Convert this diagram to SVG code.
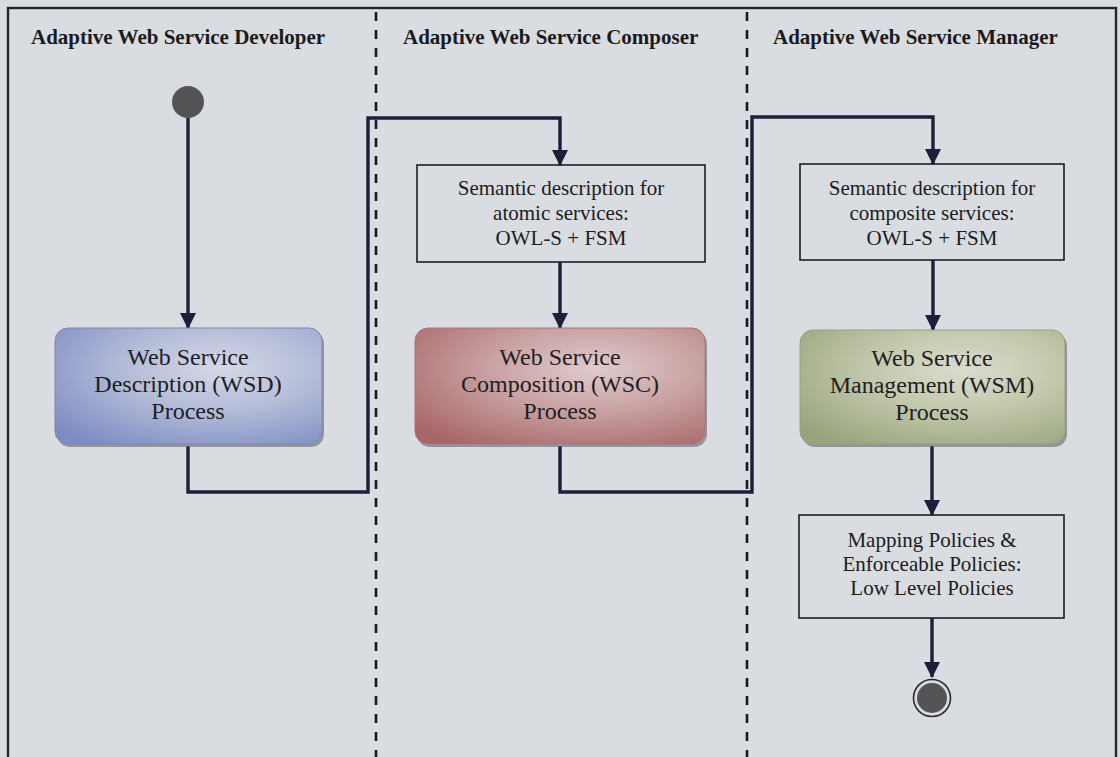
<svg xmlns="http://www.w3.org/2000/svg" width="1120" height="757" viewBox="0 0 1120 757">
  <style>
    .lane-title { font-family: "Liberation Serif", "Times New Roman", serif; font-size: 21px; font-weight: bold; fill: #1b1b1d; }
    .proc-text { font-family: "Liberation Serif", "Times New Roman", serif; font-size: 24px; fill: #1f2023; text-anchor: middle; }
    .note-text { font-family: "Liberation Serif", "Times New Roman", serif; font-size: 21px; fill: #1c1d20; text-anchor: middle; }
    .note-box { fill: none; stroke: #1e1e22; stroke-width: 1.6; }
    .lane-sep { stroke: #1a1a1e; stroke-width: 2.6; stroke-dasharray: 9 9; fill: none; }
    .flow { fill: none; stroke: #1c1f3a; stroke-width: 3.4; stroke-linejoin: miter; }
    .flow-arrow { marker-end: url(#arrowhead); }
    .shadow { fill: #62656f; opacity: 0.6; }
  </style>
  <defs>
    <marker id="arrowhead" markerUnits="userSpaceOnUse" markerWidth="16" markerHeight="16" viewBox="0 0 16 16" refX="15" refY="8" orient="auto">
      <path d="M0,0 L16,8 L0,16 Z" fill="#1c1f3a"/>
    </marker>
    <radialGradient id="gradBlue" cx="0.62" cy="0.35" r="0.8">
      <stop offset="0" stop-color="#d4d8e7"/>
      <stop offset="0.45" stop-color="#b4bcd8"/>
      <stop offset="1" stop-color="#7d8cc3"/>
    </radialGradient>
    <radialGradient id="gradRed" cx="0.62" cy="0.35" r="0.8">
      <stop offset="0" stop-color="#e0cbcc"/>
      <stop offset="0.45" stop-color="#c9a2a3"/>
      <stop offset="1" stop-color="#a76567"/>
    </radialGradient>
    <radialGradient id="gradGreen" cx="0.62" cy="0.35" r="0.8">
      <stop offset="0" stop-color="#dadccf"/>
      <stop offset="0.45" stop-color="#c2c8ab"/>
      <stop offset="1" stop-color="#98a37c"/>
    </radialGradient>
  </defs>

  <!-- page background -->
  <rect x="0" y="0" width="1120" height="757" fill="#d9dce0"/>

  <!-- swimlane frame and separators -->
  <g id="lanes">
    <rect x="8" y="8" width="1108" height="780" fill="none" stroke="#26262a" stroke-width="2.4"/>
    <line class="lane-sep" x1="376" y1="12" x2="376" y2="757"/>
    <line class="lane-sep" x1="747" y1="12" x2="747" y2="757"/>
    <text class="lane-title" x="31" y="44">Adaptive Web Service Developer</text>
    <text class="lane-title" x="403" y="44">Adaptive Web Service Composer</text>
    <text class="lane-title" x="773" y="44">Adaptive Web Service Manager</text>
  </g>

  <!-- control flow -->
  <g id="connectors">
    <path class="flow flow-arrow" d="M188,118 L188,328"/>
    <path class="flow flow-arrow" d="M188,446 L188,492 L368,492 L368,118 L560,118 L560,165"/>
    <path class="flow flow-arrow" d="M560,262 L560,328"/>
    <path class="flow flow-arrow" d="M560,446 L560,492 L752,492 L752,117 L933,117 L933,164"/>
    <path class="flow flow-arrow" d="M933,260 L933,330"/>
    <path class="flow flow-arrow" d="M932,446 L932,515"/>
    <path class="flow flow-arrow" d="M932,618 L932,677"/>
  </g>

  <!-- start -->
  <g id="start">
    <circle cx="188" cy="102" r="16" fill="#545457"/>
  </g>

  <!-- WSD process -->
  <g id="wsd">
    <rect class="shadow" x="57" y="331" width="267" height="116" rx="13"/>
    <rect x="55" y="328" width="267" height="116" rx="13" fill="url(#gradBlue)" stroke="#7f89b2" stroke-width="1"/>
    <text class="proc-text" x="188" y="365">Web Service</text>
    <text class="proc-text" x="188" y="392">Description (WSD)</text>
    <text class="proc-text" x="188" y="419">Process</text>
  </g>

  <!-- atomic semantic description -->
  <g id="atomic-desc">
    <rect class="note-box" x="417" y="165" width="288" height="97"/>
    <text class="note-text" x="561" y="195">Semantic description for</text>
    <text class="note-text" x="561" y="220">atomic services:</text>
    <text class="note-text" x="561" y="245">OWL-S + FSM</text>
  </g>

  <!-- WSC process -->
  <g id="wsc">
    <rect class="shadow" x="417" y="331" width="290" height="116" rx="13"/>
    <rect x="415" y="328" width="290" height="116" rx="13" fill="url(#gradRed)" stroke="#a7797a" stroke-width="1"/>
    <text class="proc-text" x="560" y="365">Web Service</text>
    <text class="proc-text" x="560" y="392">Composition (WSC)</text>
    <text class="proc-text" x="560" y="419">Process</text>
  </g>

  <!-- composite semantic description -->
  <g id="composite-desc">
    <rect class="note-box" x="800" y="164" width="264" height="96"/>
    <text class="note-text" x="932" y="195">Semantic description for</text>
    <text class="note-text" x="932" y="220">composite services:</text>
    <text class="note-text" x="932" y="245">OWL-S + FSM</text>
  </g>

  <!-- WSM process -->
  <g id="wsm">
    <rect class="shadow" x="802" y="333" width="265" height="114" rx="13"/>
    <rect x="800" y="330" width="265" height="114" rx="13" fill="url(#gradGreen)" stroke="#98a07e" stroke-width="1"/>
    <text class="proc-text" x="932" y="366">Web Service</text>
    <text class="proc-text" x="932" y="393">Management (WSM)</text>
    <text class="proc-text" x="932" y="420">Process</text>
  </g>

  <!-- low level policies -->
  <g id="policies">
    <rect class="note-box" x="799" y="515" width="265" height="103"/>
    <text class="note-text" x="932" y="547">Mapping Policies &amp;</text>
    <text class="note-text" x="932" y="571">Enforceable Policies:</text>
    <text class="note-text" x="932" y="595">Low Level Policies</text>
  </g>

  <!-- end -->
  <g id="end">
    <circle cx="932" cy="698" r="18.5" fill="none" stroke="#2a2a2e" stroke-width="1.6"/>
    <circle cx="932" cy="698" r="15" fill="#545457"/>
  </g>
</svg>
